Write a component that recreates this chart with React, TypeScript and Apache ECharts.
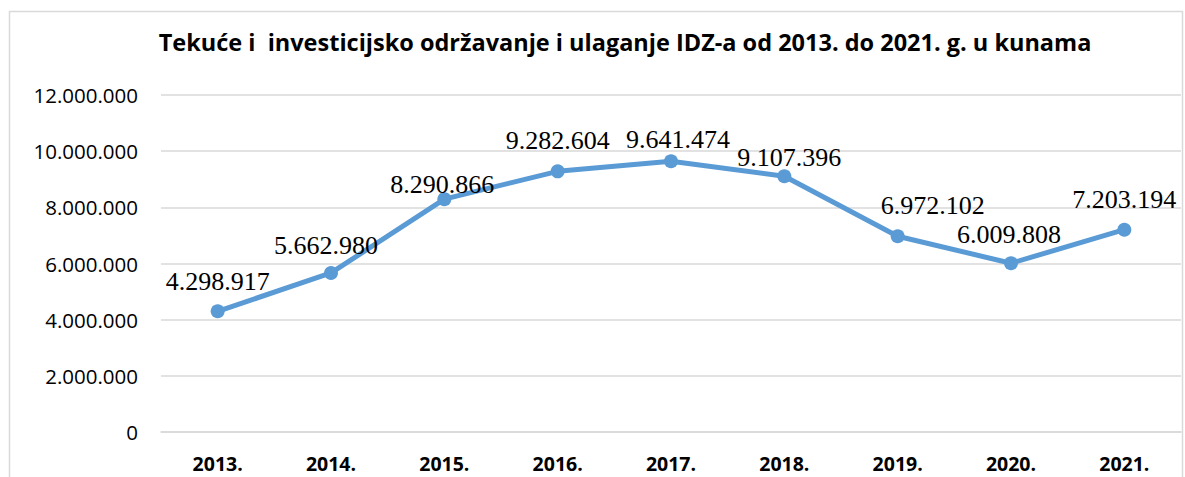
import React, { useEffect, useRef } from "react";
import * as echarts from "echarts";

const titleText = "Tekuće i  investicijsko održavanje i ulaganje IDZ-a od 2013. do 2021. g. u kunama";
const years = ["2013.", "2014.", "2015.", "2016.", "2017.", "2018.", "2019.", "2020.", "2021."];
const values = [4298917, 5662980, 8290866, 9282604, 9641474, 9107396, 6972102, 6009808, 7203194];
const labelTexts = ["4.298.917", "5.662.980", "8.290.866", "9.282.604", "9.641.474", "9.107.396", "6.972.102", "6.009.808", "7.203.194"];
const yTicks = [0, 2000000, 4000000, 6000000, 8000000, 10000000, 12000000];
// label nudges (style only)
const labelNudges: [number, number][] = [
  [0, -1], [-5, 2], [-2, 14], [0, -2], [7, 7], [5, 10], [35, -2], [-2, 0], [0, -1],
];

function fmt(v: number): string {
  return String(v).replace(/\B(?=(\d{3})+(?!\d))/g, ".");
}

export default function App() {
  const ref = useRef<HTMLDivElement>(null);
  useEffect(() => {
    if (!ref.current) return;
    const chart = echarts.init(ref.current, null, { renderer: "svg" });
    chart.setOption({
      animation: false,
      backgroundColor: "#ffffff",
      graphic: [
        {
          type: "rect",
          shape: { x: 9.5, y: 11.5, width: 1173, height: 480 },
          style: { fill: "none", stroke: "#d9d9d9", lineWidth: 1.5 },
          silent: true,
        },
      ],
      title: {
        text: titleText,
        left: 620,
        top: 25,
        textAlign: "center",
        textStyle: { fontFamily: "Open Sans", fontWeight: "bold", fontSize: 23.5, color: "#000000" },
      },
      grid: { left: 161, right: 4, top: 95, bottom: 45, containLabel: false },
      xAxis: {
        type: "category",
        data: years,
        boundaryGap: true,
        axisLine: { show: true, lineStyle: { color: "#d9d9d9", width: 1.5 } },
        axisTick: { show: false },
        axisLabel: {
          margin: 21,
          fontFamily: "Open Sans",
          fontWeight: "bold",
          fontSize: 19.5,
          color: "#000000",
        },
      },
      yAxis: {
        type: "value",
        min: 0,
        max: 12000000,
        interval: 2000000,
        axisLine: { show: false },
        axisTick: { show: false },
        splitLine: { lineStyle: { color: "#d9d9d9", width: 1.5 } },
        axisLabel: {
          margin: 23,
          fontFamily: "Open Sans",
          fontSize: 20.5,
          color: "#000000",
          formatter: (v: number) => (yTicks.includes(v) ? fmt(v) : ""),
        },
      },
      series: [
        {
          type: "line",
          data: values.map((v, i) => ({
            value: v,
            label: {
              offset: labelNudges[i],
            },
          })),
          symbol: "circle",
          symbolSize: 14,
          lineStyle: { color: "#5b9bd5", width: 5 },
          itemStyle: { color: "#5b9bd5" },
          label: {
            show: true,
            position: "top",
            distance: 9,
            fontFamily: "Liberation Serif",
            fontSize: 26,
            color: "#000000",
            formatter: (p: any) => labelTexts[p.dataIndex],
          },
        },
      ],
    });
    return () => chart.dispose();
  }, []);
  return (
    <div
      ref={ref}
      style={{ position: "absolute", left: 0, top: 0, width: 1185, height: 477 }}
    />
  );
}
